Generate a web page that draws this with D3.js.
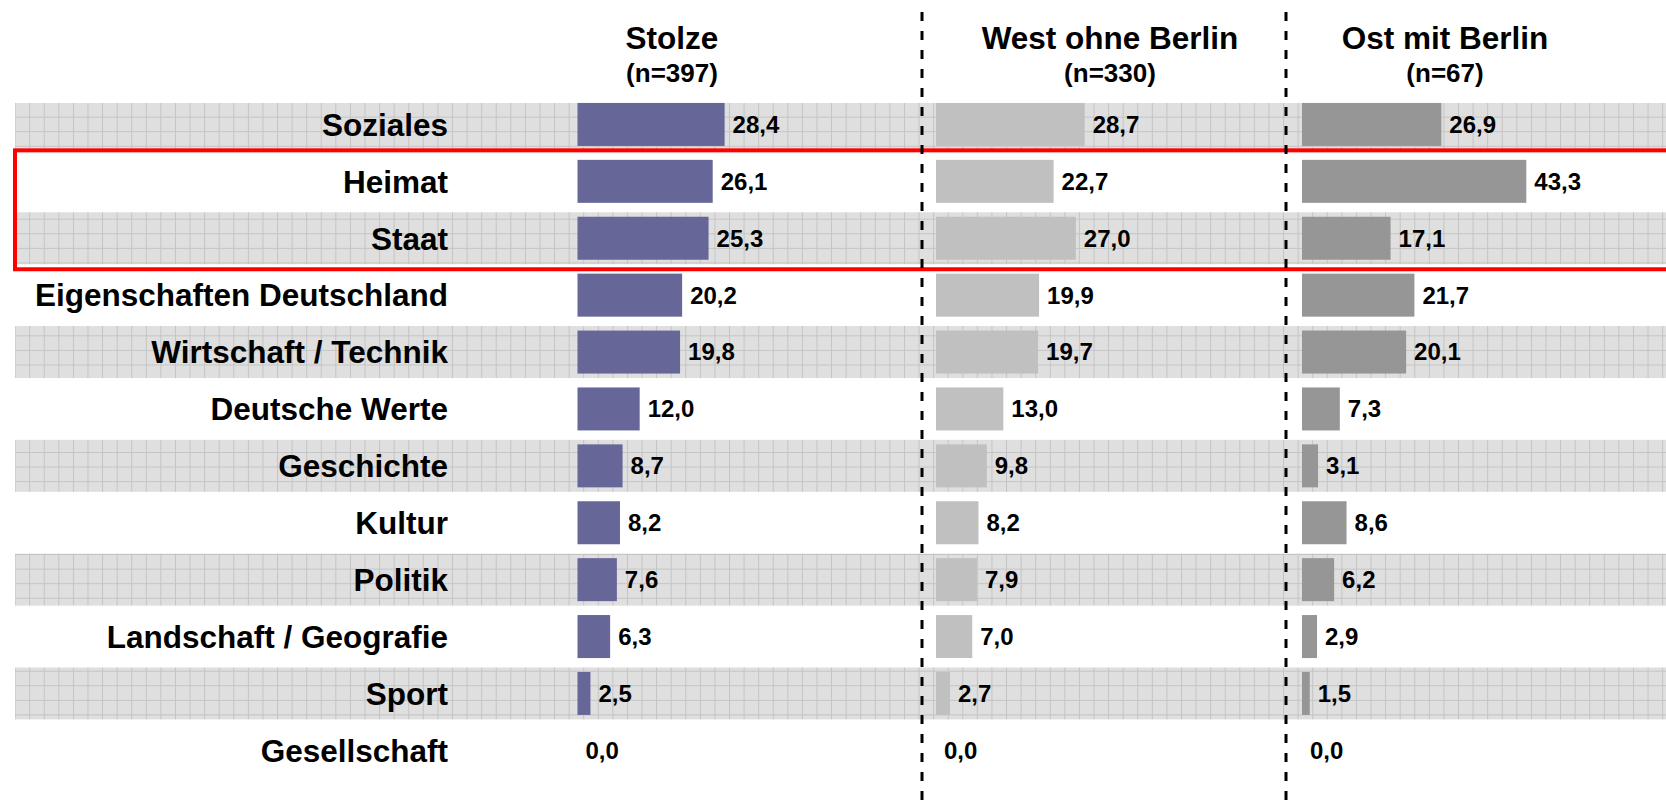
<!DOCTYPE html>
<html>
<head>
<meta charset="utf-8">
<script src="https://cdn.jsdelivr.net/npm/d3@7"></script>
<style>
  body { margin: 0; background: #fff; }
  svg { display: block; font-family: 'Liberation Sans', Arial, sans-serif; font-weight: bold; }
</style>
</head>
<body>
<svg id="chart"></svg>
<script>
// data
const categories = ['Soziales', 'Heimat', 'Staat', 'Eigenschaften Deutschland', 'Wirtschaft / Technik',
  'Deutsche Werte', 'Geschichte', 'Kultur', 'Politik', 'Landschaft / Geografie', 'Sport', 'Gesellschaft'];
const stolzeValues = [28.4, 26.1, 25.3, 20.2, 19.8, 12.0, 8.7, 8.2, 7.6, 6.3, 2.5, 0.0];
const westValues = [28.7, 22.7, 27.0, 19.9, 19.7, 13.0, 9.8, 8.2, 7.9, 7.0, 2.7, 0.0];
const ostValues = [26.9, 43.3, 17.1, 21.7, 20.1, 7.3, 3.1, 8.6, 6.2, 2.9, 1.5, 0.0];
const groupTitles = ['Stolze', 'West ohne Berlin', 'Ost mit Berlin'];
const groupSizes = ['(n=397)', '(n=330)', '(n=67)'];
const highlighted = ['Heimat', 'Staat'];

const width = 1666, height = 801;

// layout of the three panels
const panels = [
  {values: stolzeValues, x0: 577.5, center: 672, divider: null, color: '#666699'},
  {values: westValues, x0: 936, center: 1110, divider: 922, color: '#c0c0c0'},
  {values: ostValues, x0: 1302, center: 1445, divider: 1286, color: '#969696'}
];

const y = d3.scaleBand().domain(categories).range([96, 96 + 12 * 56.9]);
const x = d3.scaleLinear().domain([0, 50]).range([0, 259]);
const barH = 43;
const stripeH = 52;
const fmt = (v) => d3.format('.1f')(v).replace('.', ',');
const mid = (c) => y(c) + y.bandwidth() / 2;

const svg = d3.select('#chart').attr('width', width).attr('height', height);

const defs = svg.append('defs');
const cell = 14.58;
const pat = defs.append('pattern')
  .attr('id', 'grid')
  .attr('patternUnits', 'userSpaceOnUse')
  .attr('width', cell)
  .attr('height', cell);
pat.append('rect').attr('width', cell).attr('height', cell).attr('fill', '#dfdfdf');
pat.append('path')
  .attr('d', `M0,0.5H${cell}M0.5,0V${cell}`)
  .attr('stroke', '#c4c4c4')
  .attr('stroke-width', 1);

defs.append('clipPath').attr('id', 'plotClip')
  .append('rect').attr('x', 0).attr('y', 103).attr('width', width).attr('height', height - 103);

// gray striped rows
svg.append('g')
  .attr('clip-path', 'url(#plotClip)')
  .selectAll('rect')
  .data(categories.filter((d, i) => i % 2 === 0))
  .enter()
  .append('rect')
  .attr('x', 15)
  .attr('width', width - 15)
  .attr('y', (d) => mid(d) - stripeH / 2)
  .attr('height', stripeH)
  .attr('fill', 'url(#grid)');

// red highlight box
const boxTop = mid(highlighted[0]) - 31;
const boxBottom = mid(highlighted[highlighted.length - 1]) + 31;
svg.append('rect')
  .attr('x', 15)
  .attr('y', boxTop)
  .attr('width', width + 10)
  .attr('height', boxBottom - boxTop)
  .attr('fill', 'none')
  .attr('stroke', '#ff0000')
  .attr('stroke-width', 4);

// dashed separators
svg.selectAll('.divider')
  .data(panels.filter((p) => p.divider !== null))
  .enter()
  .append('line')
  .attr('class', 'divider')
  .attr('x1', (p) => p.divider)
  .attr('x2', (p) => p.divider)
  .attr('y1', 12)
  .attr('y2', height)
  .attr('stroke', '#000')
  .attr('stroke-width', 3)
  .attr('stroke-dasharray', '9,10');

// category labels
svg.append('g')
  .selectAll('text')
  .data(categories)
  .enter()
  .append('text')
  .attr('x', 448)
  .attr('y', (d) => mid(d))
  .attr('dy', '0.36em')
  .attr('text-anchor', 'end')
  .attr('font-size', 31.5)
  .attr('fill', '#000')
  .text((d) => d);

panels.forEach((p, pi) => {
  const g = svg.append('g').attr('transform', `translate(${p.x0},0)`);
  const rows = categories.map((c, i) => ({cat: c, value: p.values[i]}));

  g.selectAll('rect')
    .data(rows.filter((d) => d.value > 0))
    .enter()
    .append('rect')
    .attr('x', x(0))
    .attr('y', (d) => mid(d.cat) - barH / 2)
    .attr('width', (d) => x(d.value))
    .attr('height', barH)
    .attr('fill', p.color);

  g.selectAll('text')
    .data(rows)
    .enter()
    .append('text')
    .attr('x', (d) => x(d.value) + 8)
    .attr('y', (d) => mid(d.cat))
    .attr('dy', '0.35em')
    .attr('font-size', 24)
    .attr('fill', '#000')
    .text((d) => fmt(d.value));

  // headers
  svg.append('text')
    .attr('x', p.center)
    .attr('y', 49)
    .attr('text-anchor', 'middle')
    .attr('font-size', 31.5)
    .text(groupTitles[pi]);
  svg.append('text')
    .attr('x', p.center)
    .attr('y', 82)
    .attr('text-anchor', 'middle')
    .attr('font-size', 26)
    .text(groupSizes[pi]);
});
</script>
</body>
</html>
